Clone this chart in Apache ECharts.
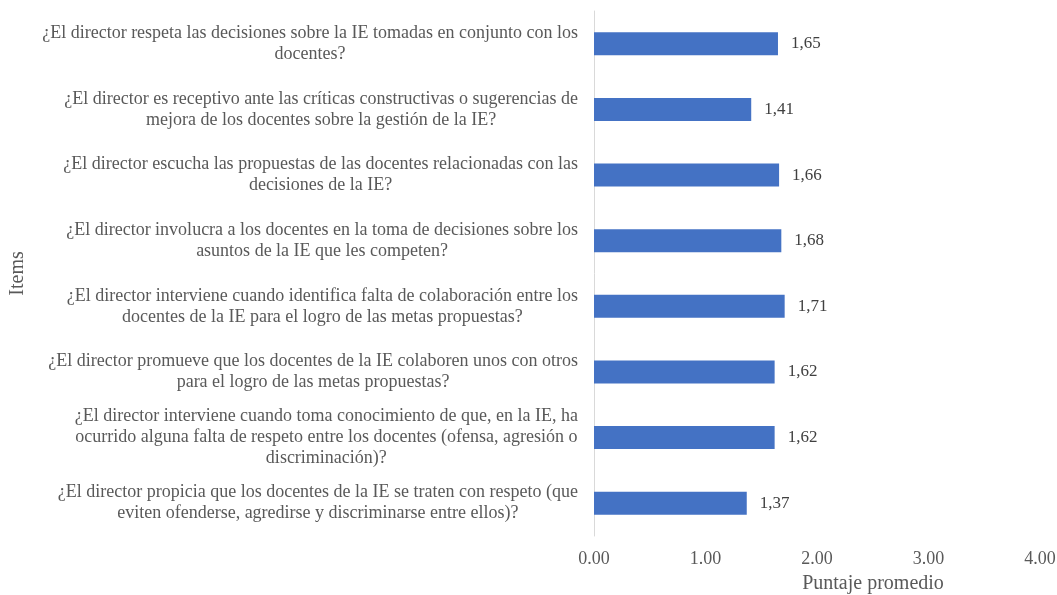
<!DOCTYPE html>
<html>
<head>
<meta charset="utf-8">
<script src="https://cdn.jsdelivr.net/npm/echarts@6/dist/echarts.min.js"></script>
<style>html,body{margin:0;padding:0;background:#fff}#c{width:1057px;height:595px}</style>
</head>
<body>
<div id="c"></div>
<script>
const categories = [
  "¿El director respeta las decisiones sobre la IE tomadas en conjunto con los\ndocentes?",
  "¿El director es receptivo ante las críticas constructivas o sugerencias de\nmejora de los docentes sobre la gestión de la IE?",
  "¿El director escucha las propuestas de las docentes relacionadas con las\ndecisiones de la IE?",
  "¿El director involucra a los docentes en la toma de decisiones sobre los\nasuntos de la IE que les competen?",
  "¿El director interviene cuando identifica falta de colaboración entre los\ndocentes de la IE para el logro de las metas propuestas?",
  "¿El director promueve que los docentes de la IE colaboren unos con otros\npara el logro de las metas propuestas?",
  "¿El director interviene cuando toma conocimiento de que, en la IE, ha\nocurrido alguna falta de respeto entre los docentes (ofensa, agresión o\ndiscriminación)?",
  "¿El director propicia que los docentes de la IE se traten con respeto (que\neviten ofenderse, agredirse y discriminarse entre ellos)?"
];
const values = [1.65, 1.41, 1.66, 1.68, 1.71, 1.62, 1.62, 1.37];
const xTicks = [0, 1, 2, 3, 4];
const xAxisName = "Puntaje promedio";
const yAxisName = "Items";

const FONT = '"Liberation Serif", "Times New Roman", serif';
const chart = echarts.init(document.getElementById('c'), null, {renderer: 'canvas'});
chart.setOption({
  animation: false,
  grid: {left: 594, right: 17, top: 11, bottom: 59, containLabel: false, outerBoundsMode: 'none'},
  xAxis: {
    type: 'value',
    min: xTicks[0],
    max: xTicks[xTicks.length - 1],
    interval: 1,
    axisLine: {show: false},
    axisTick: {show: false},
    splitLine: {show: false},
    axisLabel: {
      margin: 14,
      color: '#595959',
      fontFamily: FONT,
      fontSize: 18,
      formatter: v => v.toFixed(2)
    },
    name: xAxisName,
    nameLocation: 'middle',
    nameGap: 38,
    nameTextStyle: {color: '#595959', fontFamily: FONT, fontSize: 20, padding: [0, 0, 0, 112]}
  },
  yAxis: {
    type: 'category',
    inverse: true,
    data: categories,
    axisLine: {show: true, lineStyle: {color: '#d9d9d9', width: 1}},
    axisTick: {show: false},
    axisLabel: {
      margin: 16,
      align: 'right',
      color: '#595959',
      fontFamily: FONT,
      fontSize: 18,
      lineHeight: 21,
      formatter: v => v.split('\n').map(l => '{c|' + l + '}').join('\n'),
      rich: {c: {align: 'center', color: '#595959', fontFamily: FONT, fontSize: 18, lineHeight: 21}}
    },
    name: yAxisName,
    nameLocation: 'middle',
    nameGap: 566,
    nameRotate: 90,
    nameTextStyle: {color: '#595959', fontFamily: FONT, fontSize: 20}
  },
  series: [{
    type: 'bar',
    data: values,
    barWidth: '35%',
    itemStyle: {color: '#4472C4'},
    label: {
      show: true,
      position: 'right',
      distance: 13,
      color: '#404040',
      fontFamily: FONT,
      fontSize: 17,
      formatter: p => p.value.toFixed(2).replace('.', ',')
    }
  }]
});
</script>
</body>
</html>
